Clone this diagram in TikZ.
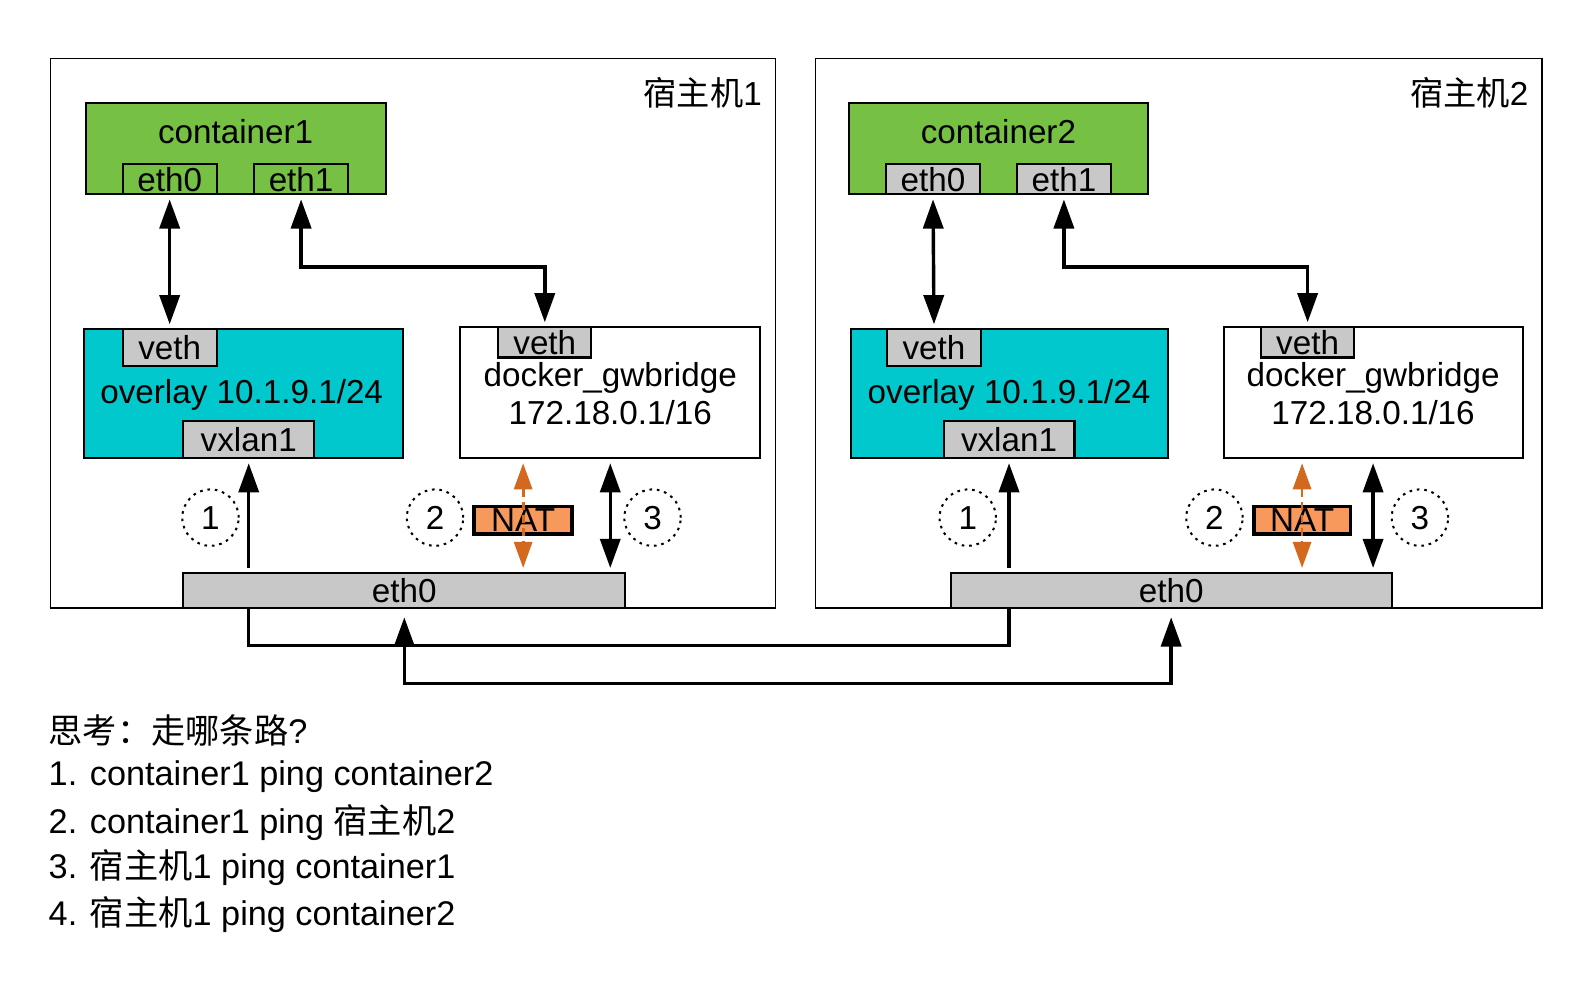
\documentclass[tikz,border=0pt]{standalone}
\usepackage{fontspec}
\setmainfont{Liberation Sans}
\newfontfamily\cjk{Noto Sans CJK SC}
\usepackage{tikz}
\usetikzlibrary{arrows.meta, calc, positioning}
\definecolor{boxGreen}{RGB}{118,192,67}
\definecolor{boxCyan}{RGB}{0,200,205}
\definecolor{portGray}{RGB}{200,200,200}
\definecolor{natFill}{RGB}{247,152,92}
\definecolor{natOrange}{RGB}{210,105,30}
\tikzset{
	dim/.style 2 args={minimum width=#1*0.5pt, minimum height=#2*0.5pt},
	host/.style={draw, line width=0.8pt, inner sep=0pt},
	box/.style={draw, line width=1pt, inner sep=0pt},
	port/.style={box, fill=portGray},
	lbl/.style={font=\fontsize{16.5}{19}\selectfont, inner sep=0pt},
	note/.style={font=\fontsize{17}{20}\selectfont, inner sep=0pt, anchor=west},
	hop/.style={circle, draw, line width=1pt, dash pattern=on 1.3pt off 2.4pt, minimum size=28pt, inner sep=0pt, font=\fontsize{16.5}{19}\selectfont},
	natbox/.style={draw, line width=1.8pt, fill=natFill, inner sep=0pt, font=\fontsize{16.5}{19}\selectfont},
	link/.style={line width=1.7pt, shorten <=2pt, shorten >=2pt},
	natlink/.style={natOrange, line width=1.4pt, dash pattern=on 4pt off 2.5pt, shorten <=2pt, shorten >=2pt, {Triangle[length=13pt, width=9pt]}-{Triangle[length=13pt, width=9pt]}}
}
\begin{document}
\begin{tikzpicture}[x=0.5pt, y=-0.5pt, >={Triangle[length=14.5pt, width=10pt]}]
	\useasboundingbox (0,0) rectangle (1568,976);

	% host 1
	\node[host, dim={720}{546}] (host1) at (410,331) {};
	\node[lbl, anchor=east] (host1lbl) at (757,92) {{\cjk 宿主机}1};

	\node[box, fill=boxGreen, dim={298}{91}] (ct1) at (234,147.5) {};
	\node[lbl] (ct1txt) at (234,131) {container1};
	\node[box, fill=boxGreen, dim={93}{30}] (ct1eth0) at (168.5,178) {};
	\node[lbl] at (ct1eth0) {eth0};
	\node[box, fill=boxGreen, dim={94}{30}] (ct1eth1) at (299,178) {};
	\node[lbl] at (ct1eth1) {eth1};

	\node[box, fill=boxCyan, dim={317}{128}] (ov1) at (241.5,391) {};
	\node[port, dim={93}{36}] (ov1veth) at (168.5,345) {};
	\node[lbl] at (ov1veth) {veth};
	\node[lbl] (ov1txt) at (240,392) {overlay 10.1.9.1/24};
	\node[port, dim={130}{37}] (vx1) at (247,436.5) {};
	\node[lbl] at (vx1) {vxlan1};

	\node[box, fill=white, dim={298}{130}] (gw1) at (606,390) {};
	\node[port, dim={92}{30}] (gw1veth) at (541,340) {};
	\node[lbl] at (gw1veth) {veth};
	\node[lbl, align=center] (gw1txt) at (606,391) {docker\_gwbridge\\172.18.0.1/16};

	\node[port, dim={439}{35}] (bar1) at (401.5,586.5) {};
	\node[lbl] at (bar1) {eth0};

	\node[hop] (hop1a) at (209,514) {1};
	\node[hop] (hop1b) at (432,514) {2};
	\node[hop] (hop1c) at (648,514) {3};
	\node[natbox, dim={97}{27}] (nat1) at (519.5,516.5) {NAT};

	\draw[link, <->] (ct1eth0.south) -- (ov1veth.north);
	\draw[link, <->] (ct1eth1.south) -- ++(0,71) -| (gw1veth.north);
	\draw[link, <-] (vx1.south) -- (vx1.south |- bar1.north);
	\draw[link, <->] (gw1.south) -- (gw1.south |- bar1.north);
	\draw[natlink] (nat1 |- gw1.south) -- (nat1 |- bar1.north);

	% host 2
	\node[host, dim={721}{546}] (host2) at (1170.5,331) {};
	\node[lbl, anchor=east] (host2lbl) at (1518,92) {{\cjk 宿主机}2};

	\node[box, fill=boxGreen, dim={297}{91}] (ct2) at (991.5,147.5) {};
	\node[lbl] (ct2txt) at (991.5,131) {container2};
	\node[port, dim={93}{30}] (ct2eth0) at (926.5,178) {};
	\node[lbl] at (ct2eth0) {eth0};
	\node[port, dim={93}{30}] (ct2eth1) at (1056.5,178) {};
	\node[lbl] at (ct2eth1) {eth1};

	\node[box, fill=boxCyan, dim={315}{128}] (ov2) at (1002.5,391) {};
	\node[port, dim={93}{36}] (ov2veth) at (927.5,345) {};
	\node[lbl] at (ov2veth) {veth};
	\node[lbl] (ov2txt) at (1002,392) {overlay 10.1.9.1/24};
	\node[port, dim={130}{37}] (vx2) at (1002,436.5) {};
	\node[lbl] at (vx2) {vxlan1};

	\node[box, fill=white, dim={297}{130}] (gw2) at (1363.5,390) {};
	\node[port, dim={93}{30}] (gw2veth) at (1298.5,340) {};
	\node[lbl] at (gw2veth) {veth};
	\node[lbl, align=center] (gw2txt) at (1363.5,391) {docker\_gwbridge\\172.18.0.1/16};

	\node[port, dim={438}{35}] (bar2) at (1163,586.5) {};
	\node[lbl] at (bar2) {eth0};

	\node[hop] (hop2a) at (961,514) {1};
	\node[hop] (hop2b) at (1206,514) {2};
	\node[hop] (hop2c) at (1410,514) {3};
	\node[natbox, dim={96}{27}] (nat2) at (1293,516.5) {NAT};

	\draw[link, <->] (ct2eth0.south) -- (ov2veth.north);
	\draw[link, <->] (ct2eth1.south) -- ++(0,71) -| (gw2veth.north);
	\draw[link, <-] (vx2.south) -- (vx2.south |- bar2.north);
	\draw[link, <->] (gw2.south) -- (gw2.south |- bar2.north);
	\draw[natlink] (nat2 |- gw2.south) -- (nat2 |- bar2.north);

	% between the hosts
	\draw[line width=1.7pt] (vx1.south |- bar1.south) -- ++(0,36) -| (vx2.south |- bar2.south);
	\draw[link, <->, shorten <=4pt, shorten >=4pt] (bar1.south) -- ++(0,74) -| (bar2.south);

	% questions
	\node[note] (q0) at (48,725) {{\cjk 思考：走哪条路}?};
	\node[note] (q1) at (48,771) {1. container1 ping container2};
	\node[note] (q2) at (48,817) {2. container1 ping {\cjk 宿主机}2};
	\node[note] (q3) at (48,862) {3. {\cjk 宿主机}1 ping container1};
	\node[note] (q4) at (48,908) {4. {\cjk 宿主机}1 ping container2};
\end{tikzpicture}
\end{document}
